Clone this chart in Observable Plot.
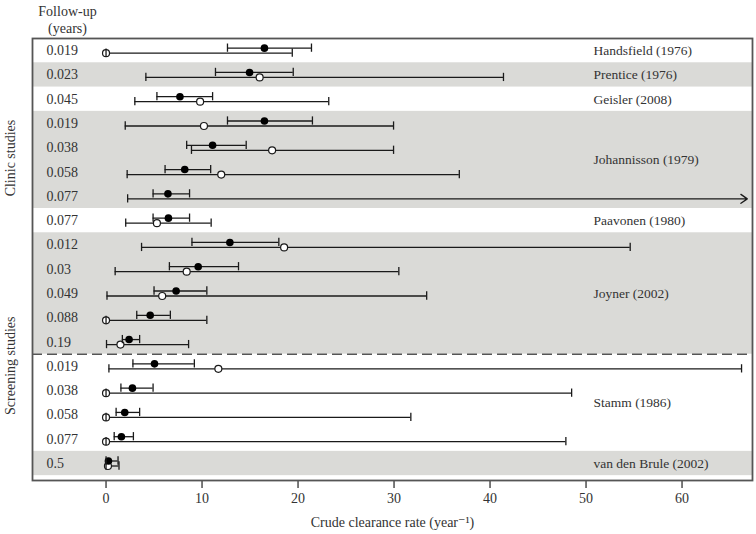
<!DOCTYPE html>
<html><head><meta charset="utf-8">
<script src="https://cdn.jsdelivr.net/npm/d3@7"></script>
<script src="https://cdn.jsdelivr.net/npm/@observablehq/plot@0.6"></script>
<style>
body{margin:0;background:#fff;}
#chart svg, #chart svg text { font-family: "Liberation Serif", "DejaVu Serif", serif !important; }
</style>
</head><body><div id="chart"></div>
<script>
// ---- data ----
const followUp = ["0.019","0.023","0.045","0.019","0.038","0.058","0.077","0.077","0.012","0.03","0.049","0.088","0.19","0.019","0.038","0.058","0.077","0.5"];
const studyNames = ["Handsfield (1976)","Prentice (1976)","Geisler (2008)","Johannisson (1979)","Paavonen (1980)","Joyner (2002)","Stamm (1986)","van den Brule (2002)"];
const studyFirstRow = [0,1,2,3,7,8,13,17];
const studyLastRow  = [0,1,2,6,7,12,16,17];
const groupNames = ["Clinic studies","Screening studies"];
const groupFirstRow = [0,13];
const groupLastRow  = [12,17];
// filled dot estimates with intervals
const filledEst = [16.5,14.95,7.7,16.5,11.1,8.2,6.45,6.5,12.9,9.6,7.3,4.6,2.4,5.05,2.75,1.95,1.6,0.25];
const filledLo  = [12.65,11.4,5.3,12.65,8.4,6.15,4.9,4.9,8.95,6.6,5.0,3.2,1.7,2.8,1.55,1.05,0.85,0];
const filledHi  = [21.4,19.5,11.1,21.5,14.6,10.9,8.7,8.7,18.0,13.8,10.5,6.7,3.5,9.2,4.9,3.5,2.85,1.25];
// open circle estimates with intervals
const openEst = [0,16.0,9.8,10.2,17.3,12.0,null,5.3,18.55,8.4,5.85,0,1.5,11.7,0,0,0,0.2];
const openLo  = [0,4.15,3.0,2.0,8.9,2.2,2.25,2.05,3.7,0.95,0.1,0,0.05,0.3,0,0,0,0];
const openHi  = [19.4,41.4,23.2,29.95,29.95,36.8,66.8,10.95,54.6,30.5,33.4,10.5,8.6,66.2,48.5,31.75,47.9,1.35];
const openHiUnbounded = [false,false,false,false,false,false,true,false,false,false,false,false,false,false,false,false,false,false];
const xTicks = [0,10,20,30,40,50,60];
const xDomain = [-7.66, 67.34];
const yDomain = [-0.5, 17.7];

// ---- tables ----
const rows = followUp.map((f,i)=>({row:i, followUp:f, fEst:filledEst[i], fLo:filledLo[i], fHi:filledHi[i],
  oEst:openEst[i], oLo:openLo[i], oHi:openHi[i], unbounded:openHiUnbounded[i]}));
const studies = studyNames.map((s,i)=>({name:s, idx:i, first:studyFirstRow[i], last:studyLastRow[i], mid:(studyFirstRow[i]+studyLastRow[i])/2}));
const groups = groupNames.map((g,i)=>({name:g, first:groupFirstRow[i], last:groupLastRow[i], mid:(groupFirstRow[i]+groupLastRow[i])/2}));

const FONT = "Liberation Serif, DejaVu Serif, serif";
const LINE = "#1a1a1a";
const TXT = "#333";
const capH = 0.17;
const up = -2.5, down = 2.5;

const plot = Plot.plot({
  width: 756, height: 534,
  marginTop: 38, marginBottom: 54, marginLeft: 32, marginRight: 4,
  style: {fontFamily: FONT, fontSize: "14px", color: TXT, background: "#fff"},
  x: {domain: xDomain},
  y: {domain: yDomain, reverse: true, axis: null},
  marks: [
    Plot.rect(studies.filter(d=>d.idx%2===1), {y1: d=>d.first-0.5, y2: d=>d.last+0.5, fill: "#dadad7"}),
    Plot.ruleY([groups[0].last + 0.5], {stroke: "#555", strokeWidth: 1.6, strokeDasharray: "10,5"}),
    // interval lines
    Plot.ruleY(rows, {y: "row", x1: "fLo", x2: "fHi", dy: up, stroke: LINE, strokeWidth: 1.3}),
    Plot.ruleY(rows.filter(d=>!d.unbounded), {y: "row", x1: "oLo", x2: "oHi", dy: down, stroke: LINE, strokeWidth: 1.3}),
    Plot.arrow(rows.filter(d=>d.unbounded), {x1: "oLo", x2: "oHi", y1: "row", y2: "row", dy: down, stroke: LINE, strokeWidth: 1.3, headLength: 9, headAngle: 70}),
    // points
    Plot.dot(rows.filter(d=>d.oEst!=null), {x: "oEst", y: "row", dy: down, r: 3.5, fill: "#fff", stroke: LINE, strokeWidth: 1.2}),
    Plot.dot(rows, {x: "fEst", y: "row", dy: up, r: 3.8, fill: "#000"}),
    // caps
    Plot.ruleX(rows, {x: "fLo", y1: d=>d.row-capH, y2: d=>d.row+capH, dy: up, stroke: LINE, strokeWidth: 1.3}),
    Plot.ruleX(rows, {x: "fHi", y1: d=>d.row-capH, y2: d=>d.row+capH, dy: up, stroke: LINE, strokeWidth: 1.3}),
    Plot.ruleX(rows, {x: "oLo", y1: d=>d.row-capH, y2: d=>d.row+capH, dy: down, stroke: LINE, strokeWidth: 1.3}),
    Plot.ruleX(rows.filter(d=>!d.unbounded), {x: "oHi", y1: d=>d.row-capH, y2: d=>d.row+capH, dy: down, stroke: LINE, strokeWidth: 1.3}),
    // labels
    Plot.text(rows, {y: "row", text: "followUp", frameAnchor: "left", dx: 14, textAnchor: "start", fontSize: 14, fill: TXT}),
    Plot.text(studies, {y: "mid", text: "name", frameAnchor: "right", dx: -159, textAnchor: "start", fontSize: 13.5, fill: TXT}),
    Plot.text(groups, {y: "mid", text: "name", frameAnchor: "left", dx: -22, rotate: -90, fontSize: 14, fill: TXT}),
    Plot.text(["Follow-up\n(years)"], {frameAnchor: "top-left", dx: 35, dy: -34, lineAnchor: "top", textAnchor: "middle", lineHeight: 1.2, fontSize: 14, fill: TXT}),
    Plot.axisX({ticks: xTicks, tickSize: 8, tickPadding: 5, label: null, fontSize: 14, stroke: "#333", strokeWidth: 1.3}),
    Plot.text(["Crude clearance rate (year\u207B\u00B9)"], {frameAnchor: "bottom", dy: 42, lineAnchor: "middle", fontSize: 14, fill: TXT}),
    Plot.frame({stroke: "#555", strokeWidth: 1.8})
  ]
});
document.getElementById("chart").appendChild(plot);
</script>
</body></html>
